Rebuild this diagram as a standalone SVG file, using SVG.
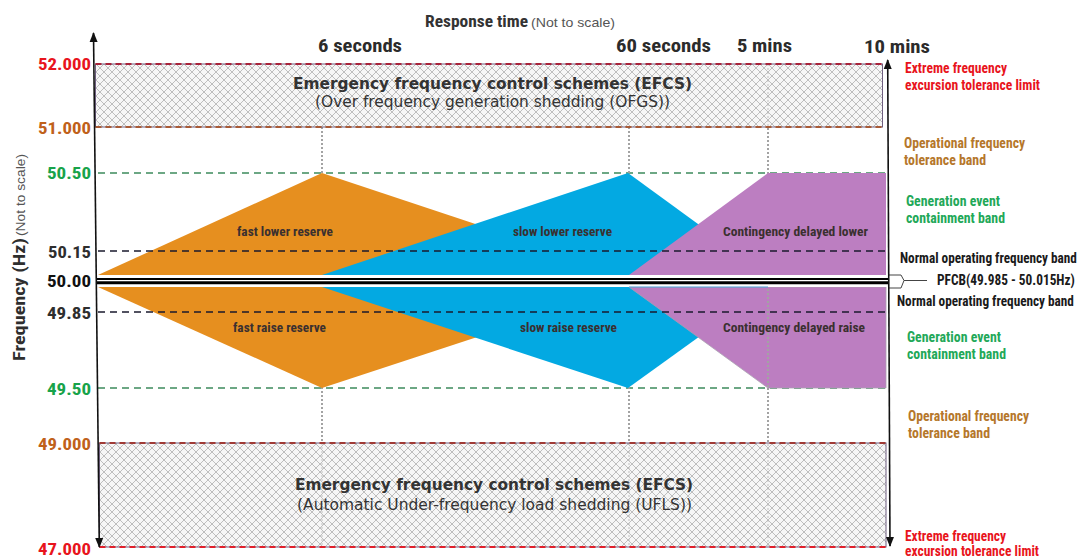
<svg xmlns="http://www.w3.org/2000/svg" width="1082" height="558" viewBox="0 0 1082 558">
<style>
.cond{font-family:"Liberation Sans Narrow","Roboto Condensed","Liberation Sans",Arial,sans-serif;font-weight:bold}
.reg{font-family:"Liberation Sans Narrow","Liberation Sans",Arial,sans-serif;font-weight:normal}
.efcs{font-family:"DejaVu Sans",Verdana,sans-serif;fill:#333}
.ylab{font-size:17px;text-anchor:end}
.rlab{font-size:14.5px}
.res{font-size:13px;fill:#3a3030}
.top{font-size:19px;fill:#2b2b2b}
.red{fill:#e8141c}
.brn{fill:#c0611a}
.grn{fill:#18a34a}
.rgrn{fill:#22a858}
.rbrn{fill:#b5772b}
.dk{fill:#2e2e2e}
.vdot{stroke:#a3a3a3;stroke-width:2;stroke-dasharray:2 2;fill:none}
.gdash{stroke:#3c8a5c;stroke-width:1.5;stroke-dasharray:7 5;fill:none}
.kdash{stroke:#1a1a2e;stroke-width:1.5;stroke-dasharray:7 5;fill:none}
.axis{stroke:#111;stroke-width:1.6;fill:none}
</style>
<defs>
<pattern id="hatch" width="8" height="8" patternUnits="userSpaceOnUse">
<rect width="8" height="8" fill="#f3f3f3" fill-opacity="0.7"/>
<path d="M0,0 L8,8 M8,0 L0,8" stroke="#b0b0b0" stroke-width="0.8" fill="none"/>
<circle cx="4" cy="4" r="0.8" fill="#bbb"/>
</pattern>
<marker id="ah" markerWidth="10" markerHeight="10" refX="9" refY="5" orient="auto-start-reverse" markerUnits="userSpaceOnUse">
<path d="M0,1 L10,5 L0,9 Z" fill="#111"/>
</marker>
</defs>
<rect width="1082" height="558" fill="#fff"/>

<g id="title">
<text class="cond" x="425" y="27" font-size="16" fill="#333" textLength="103" lengthAdjust="spacingAndGlyphs">Response time</text>
<text class="reg" x="531" y="27" font-size="13" fill="#555" textLength="84" lengthAdjust="spacingAndGlyphs">(Not to scale)</text>
</g>
<g id="yaxis-title">
<text class="cond" transform="translate(25,361) rotate(-90)" font-size="16" fill="#2e2e2e" textLength="123" lengthAdjust="spacingAndGlyphs">Frequency (Hz)</text>
<text class="reg" transform="translate(25,236) rotate(-90)" font-size="13" fill="#555" textLength="82" lengthAdjust="spacingAndGlyphs">(Not to scale)</text>
</g>

<g id="time-labels">
<text class="cond top" x="318" y="52" textLength="84" lengthAdjust="spacingAndGlyphs">6 seconds</text>
<text class="cond top" x="616" y="52" textLength="95" lengthAdjust="spacingAndGlyphs">60 seconds</text>
<text class="cond top" x="737" y="52" textLength="55" lengthAdjust="spacingAndGlyphs">5 mins</text>
<text class="cond top" x="864" y="53" textLength="66" lengthAdjust="spacingAndGlyphs">10 mins</text>
</g>

<g id="green-lines">
<line class="gdash" x1="98" y1="173" x2="888" y2="173"/>
<line class="gdash" x1="98" y1="388" x2="888" y2="388"/>
</g>

<g id="time-markers">
<line class="vdot" x1="322" y1="127" x2="322" y2="547"/>
<line class="vdot" x1="629" y1="127" x2="629" y2="547"/>
<line class="vdot" x1="768" y1="64" x2="768" y2="547"/>
</g>

<g id="fast-lower"><polygon points="98,275 322,173 629,275" fill="#e68f1f"/></g>
<g id="fast-raise"><polygon points="98,287 322,388 629,287" fill="#e68f1f"/></g>
<g id="slow-lower"><polygon points="322,275 628,173 768,275" fill="#03a9e2"/></g>
<g id="slow-raise"><polygon points="322,287 628,388 768,287" fill="#03a9e2"/></g>
<g id="delayed-lower"><polygon points="629,275 768,173 886,173 886,275" fill="#bc7ec1"/></g>
<g id="delayed-raise"><polygon points="629,287 768,388 886,388 886,287" fill="#bc7ec1" stroke="#a9a0b0" stroke-width="0.8"/></g>
<line class="vdot" x1="768" y1="289" x2="768" y2="388"/>

<g id="pfcb-band">
<rect x="97" y="275" width="791" height="12" fill="#fff"/>
<line x1="629" y1="287" x2="768" y2="287" stroke="#4a9fd8" stroke-width="1"/>
<line x1="97" y1="279" x2="888" y2="279" stroke="#000" stroke-width="2"/>
<line x1="97" y1="282.8" x2="888" y2="282.8" stroke="#000" stroke-width="3"/>
<path d="M889,275 H901 L904,280.5 H927 M904,280.5 L901,288 H889" fill="#fff" stroke="#444" stroke-width="1"/>
</g>

<g id="black-lines">
<line class="kdash" x1="98" y1="251" x2="888" y2="251"/>
<line class="kdash" x1="98" y1="312" x2="888" y2="312"/>
</g>

<g id="efcs-top">
<rect x="95.5" y="64" width="787" height="63" fill="url(#hatch)" stroke="#6f5f80" stroke-width="1"/>
<line x1="95.5" y1="64" x2="882.5" y2="64" stroke="#a8233a" stroke-width="2" stroke-dasharray="6 4"/>
<line x1="95.5" y1="127" x2="882.5" y2="127" stroke="#a85a35" stroke-width="2" stroke-dasharray="6 4"/>
<text class="efcs" x="293" y="89" font-size="16" font-weight="bold" textLength="399" lengthAdjust="spacingAndGlyphs">Emergency frequency control schemes (EFCS)</text>
<text class="efcs" x="315" y="107" font-size="15.5" textLength="355" lengthAdjust="spacingAndGlyphs">(Over frequency generation shedding (OFGS))</text>
</g>
<g id="efcs-bottom">
<rect x="99.5" y="443" width="786.5" height="104" fill="url(#hatch)" stroke="#6f5f80" stroke-width="1"/>
<line x1="99.5" y1="443" x2="886" y2="443" stroke="#a03a35" stroke-width="2" stroke-dasharray="6 4"/>
<line x1="99.5" y1="547" x2="886" y2="547" stroke="#e0202a" stroke-width="2" stroke-dasharray="6 4"/>
<text class="efcs" x="295" y="490" font-size="16" font-weight="bold" textLength="398" lengthAdjust="spacingAndGlyphs">Emergency frequency control schemes (EFCS)</text>
<text class="efcs" x="297" y="510" font-size="15.5" textLength="395" lengthAdjust="spacingAndGlyphs">(Automatic Under-frequency load shedding (UFLS))</text>
</g>

<g id="reserve-labels">
<text class="cond res" x="237" y="236" textLength="96" lengthAdjust="spacingAndGlyphs">fast lower reserve</text>
<text class="cond res" x="513" y="236" textLength="99" lengthAdjust="spacingAndGlyphs">slow lower reserve</text>
<text class="cond res" x="723" y="236" textLength="145" lengthAdjust="spacingAndGlyphs">Contingency delayed lower</text>
<text class="cond res" x="233" y="332" textLength="93" lengthAdjust="spacingAndGlyphs">fast raise reserve</text>
<text class="cond res" x="520" y="332" textLength="97" lengthAdjust="spacingAndGlyphs">slow raise reserve</text>
<text class="cond res" x="723" y="332" textLength="142" lengthAdjust="spacingAndGlyphs">Contingency delayed raise</text>
</g>

<g id="axes">
<line class="axis" x1="93.5" y1="33" x2="99.3" y2="547" marker-start="url(#ah)" marker-end="url(#ah)"/>
<line class="axis" x1="887.7" y1="60" x2="890" y2="546" marker-start="url(#ah)" marker-end="url(#ah)"/>
</g>

<g id="y-labels">
<text class="cond ylab red" x="91" y="70" textLength="53" lengthAdjust="spacingAndGlyphs">52.000</text>
<text class="cond ylab brn" x="91" y="134" textLength="53" lengthAdjust="spacingAndGlyphs">51.000</text>
<text class="cond ylab grn" x="91" y="179" textLength="44" lengthAdjust="spacingAndGlyphs">50.50</text>
<text class="cond ylab dk" x="91" y="258" textLength="43" lengthAdjust="spacingAndGlyphs">50.15</text>
<text class="cond ylab" x="91" y="287" fill="#111" textLength="44" lengthAdjust="spacingAndGlyphs">50.00</text>
<text class="cond ylab dk" x="91" y="319" textLength="44" lengthAdjust="spacingAndGlyphs">49.85</text>
<text class="cond ylab grn" x="91" y="395" textLength="44" lengthAdjust="spacingAndGlyphs">49.50</text>
<text class="cond ylab brn" x="91" y="450" textLength="53" lengthAdjust="spacingAndGlyphs">49.000</text>
<text class="cond ylab red" x="91" y="555" textLength="53" lengthAdjust="spacingAndGlyphs">47.000</text>
</g>

<g id="right-labels">
<text class="cond rlab red" x="905" y="73" textLength="102" lengthAdjust="spacingAndGlyphs">Extreme frequency</text>
<text class="cond rlab red" x="905" y="90" textLength="135" lengthAdjust="spacingAndGlyphs">excursion tolerance limit</text>
<text class="cond rlab rbrn" x="904" y="148" textLength="121" lengthAdjust="spacingAndGlyphs">Operational frequency</text>
<text class="cond rlab rbrn" x="904" y="165" textLength="82" lengthAdjust="spacingAndGlyphs">tolerance band</text>
<text class="cond rlab rgrn" x="906" y="206" textLength="94" lengthAdjust="spacingAndGlyphs">Generation event</text>
<text class="cond rlab rgrn" x="906" y="223" textLength="99" lengthAdjust="spacingAndGlyphs">containment band</text>
<text class="cond" transform="translate(900,263) scale(0.915,1)" font-size="14.5" fill="#1a1a1a">Normal operating frequency band</text>
<text class="cond" transform="translate(937,285) scale(0.92,1)" font-size="14.5" fill="#1a1a1a">PFCB(49.985 - 50.015Hz)</text>
<text class="cond" transform="translate(897,306) scale(0.915,1)" font-size="14.5" fill="#1a1a1a">Normal operating frequency band</text>
<text class="cond rlab rgrn" x="907" y="342" textLength="94" lengthAdjust="spacingAndGlyphs">Generation event</text>
<text class="cond rlab rgrn" x="907" y="359" textLength="99" lengthAdjust="spacingAndGlyphs">containment band</text>
<text class="cond rlab rbrn" x="908" y="421" textLength="121" lengthAdjust="spacingAndGlyphs">Operational frequency</text>
<text class="cond rlab rbrn" x="908" y="438" textLength="82" lengthAdjust="spacingAndGlyphs">tolerance band</text>
<text class="cond rlab red" x="905" y="541" textLength="101" lengthAdjust="spacingAndGlyphs">Extreme frequency</text>
<text class="cond rlab red" x="905" y="556" textLength="134" lengthAdjust="spacingAndGlyphs">excursion tolerance limit</text>
</g>
</svg>
